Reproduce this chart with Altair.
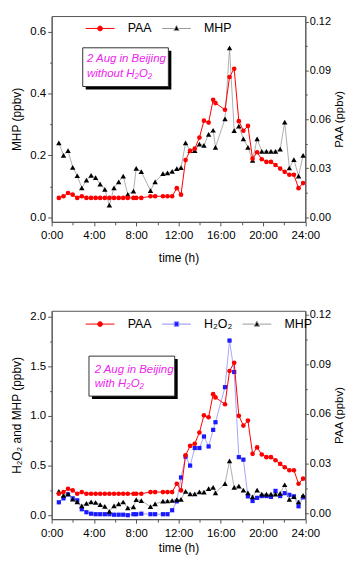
import altair as alt
import pandas as pd

# ---------------- data ----------------
time_h = [0.68, 1.12, 1.55, 1.99, 2.42, 2.85, 3.29, 3.73, 4.16, 4.59, 5.03, 5.46, 5.90,
          6.34, 6.77, 7.20, 7.74, 8.00, 8.48, 9.35, 9.79, 10.53, 10.96, 11.40, 11.84,
          12.24, 12.67, 13.10, 13.54, 13.98, 14.41, 14.85, 15.28, 15.50, 16.40, 16.83,
          17.27, 17.71, 18.14, 18.57, 19.01, 19.44, 19.88, 20.32, 20.75, 21.18, 21.62,
          22.05, 22.49, 22.92, 23.36, 23.79]

mhp_ppbv = [0.240, 0.200, 0.215, 0.161, 0.134, 0.095, 0.120, 0.135, 0.128, 0.107, 0.090,
            0.039, 0.095, 0.114, 0.133, 0.074, 0.084, 0.158, 0.147, 0.086, 0.114, 0.141,
            0.143, 0.148, 0.157, 0.160, 0.240, 0.215, 0.215, 0.236, 0.232, 0.268, 0.281,
            0.226, 0.318, 0.547, 0.280, 0.294, 0.253, 0.226, 0.184, 0.253, 0.213, 0.213,
            0.213, 0.213, 0.220, 0.307, 0.159, 0.186, 0.133, 0.200]

paa_ppbv = [0.0118, 0.0128, 0.0148, 0.0138, 0.0118, 0.0128, 0.0118, 0.0118, 0.0118, 0.0118,
            0.0118, 0.0118, 0.0118, 0.0118, 0.0118, 0.0118, 0.0118, 0.0118, 0.0118, 0.0128,
            0.0128, 0.0128, 0.0128, 0.0128, 0.0178, 0.0138, 0.0350, 0.0407, 0.0420, 0.0488,
            0.0592, 0.0580, 0.0720, 0.0700, 0.0659, 0.0860, 0.0910, 0.0589, 0.0530, 0.0560,
            0.0359, 0.0398, 0.0355, 0.0339, 0.0339, 0.0320, 0.0298, 0.0278, 0.0260, 0.0260,
            0.0178, 0.0209]

h2o2_ppbv = [0.13, 0.17, 0.21, 0.17, 0.15, 0.06, 0.03, 0.015, 0.01, 0.01, 0.01, 0.01, 0.005,
             0.005, 0.005, 0.0, 0.01, 0.01, 0.015, 0.01, 0.01, 0.01, 0.01, 0.05, 0.14, 0.38,
             0.59, 0.50, 0.677, 0.677, 0.793, 0.693, 0.86, 0.937, 1.29, 1.76, 1.443, 0.585,
             0.56, 0.19, 0.143, 0.175, 0.193, 0.193, 0.185, 0.245, 0.193, 0.222, 0.205, 0.19,
             0.09, 0.18]

x_ticks = [0, 2, 4, 6, 8, 10, 12, 14, 16, 18, 20, 22, 24]
mhp_ticks_top = [0.0, 0.1, 0.2, 0.3, 0.4, 0.5, 0.6]
left_ticks_bottom = [0.0, 0.25, 0.5, 0.75, 1.0, 1.25, 1.5, 1.75, 2.0]
paa_ticks = [0.0, 0.015, 0.03, 0.045, 0.06, 0.075, 0.09, 0.105, 0.12]

legend_top = ["PAA", "MHP"]
legend_bottom = ["PAA", "H₂O₂", "MHP"]
note_top = ["2 Aug in Beijing", "without H₂O₂"]
note_bottom = ["2 Aug in Beijing", "with H₂O₂"]

# ---------------- styling ----------------
FONT = "Liberation Sans"
RED = "#ff0000"
BLUE = "#1a1aff"
BLUE_LINE = "#8f8fff"
GRAY_LINE = "#9a9a9a"
MAGENTA = "#ee22ee"
FRAME = "#555555"

W = 255.6
H_TOP = 207.4
H_BOT = 210

df = pd.DataFrame({"time": time_h, "MHP": mhp_ppbv, "PAA": paa_ppbv, "H2O2": h2o2_ppbv})

# legend symbols: line segment + marker (unit coords, drawn with size 100 -> 5 px/unit)
P_CIRCLE = "M-2.9,0H-0.48M0.48,0H2.9M-0.48,0A0.48,0.48,0,1,1,0.48,0A0.48,0.48,0,1,1,-0.48,0Z"
P_TRI = "M-2.9,0H-0.55M0.55,0H2.9M0,-0.6L0.55,0.42L-0.55,0.42Z"
P_SQ = "M-2.9,0H-0.45M0.45,0H2.9M-0.45,-0.45H0.45V0.45H-0.45Z"


def x_enc(title_pad):
    return alt.X(
        "time:Q",
        scale=alt.Scale(domain=[0, 24], nice=False, zero=False),
        axis=alt.Axis(
            values=x_ticks, title="time (h)", labelFlush=False, labelOverlap=False,
            labelExpr="datum.value % 4 == 0 ? datum.value + ':00' : ''",
            tickSize={"condition": {"test": "datum.value % 4 == 0", "value": 4}, "value": 3},
            labelPadding=4, titlePadding=title_pad,
        ),
    )


def left_y(field, domain, ticks, title, mult):
    return alt.Y(
        f"{field}:Q",
        scale=alt.Scale(domain=domain, nice=False, zero=False),
        axis=alt.Axis(
            orient="left", values=ticks, title=title, labelOverlap=False,
            labelExpr=f"round(datum.value*{mult}) % 2 == 0 ? format(datum.value, '.1f') : ''",
            tickSize={"condition": {"test": f"round(datum.value*{mult}) % 2 == 0", "value": 4},
                      "value": 2},
            labelPadding=2, titlePadding=6,
        ),
    )


def right_y(domain):
    return alt.Y(
        "PAA:Q",
        scale=alt.Scale(domain=domain, nice=False, zero=False),
        axis=alt.Axis(
            orient="right", values=paa_ticks, title="PAA (ppbv)", titleAngle=270,
            titleBaseline="bottom", titleX=39.2, titleFontSize=11.5, labelOverlap=False,
            labelFontSize=11,
            labelExpr="round(datum.value/0.015) % 2 == 0 ? format(datum.value, '.2f') : ''",
            tickSize={"condition": {"test": "round(datum.value/0.015) % 2 == 0", "value": 3},
                      "value": 2},
            labelPadding=1,
        ),
    )


def legend_layer(names, fills, strokes, paths, lx, ly):
    leg = alt.Legend(
        title=None, orient="none", legendX=lx, legendY=ly, direction="horizontal",
        symbolSize=100, symbolStrokeWidth=1, symbolOffset=8.25, labelOffset=21.5,
        columnPadding=8, padding=0, labelFont=FONT, labelFontSize=12.5,
        labelColor="black", symbolOpacity=1,
    )
    data = pd.DataFrame({"series": names})
    return alt.Chart(data).mark_point(filled=True, opacity=1, clip=True).encode(
        x=alt.value(-200), y=alt.value(-200),
        fill=alt.Fill("series:N", scale=alt.Scale(domain=names, range=fills), legend=leg),
        stroke=alt.Stroke("series:N", scale=alt.Scale(domain=names, range=strokes), legend=leg),
        shape=alt.Shape("series:N", scale=alt.Scale(domain=names, range=paths), legend=leg),
    )


def note_layers(lines, bx, by, bw, bh, tx, ty):
    one = pd.DataFrame({"k": [0]})
    shadow = alt.Chart(one).mark_rect(color="black").encode(
        x=alt.value(bx + 3), x2=alt.value(bx + bw + 3), y=alt.value(by + 3), y2=alt.value(by + bh + 3))
    box = alt.Chart(one).mark_rect(fill="white", stroke="#333333", strokeWidth=1).encode(
        x=alt.value(bx), x2=alt.value(bx + bw), y=alt.value(by), y2=alt.value(by + bh))
    txt = alt.Chart(one).mark_text(
        align="left", baseline="alphabetic", font=FONT, fontStyle="italic",
        fontSize=11.5, color=MAGENTA, lineHeight=14.3,
    ).encode(x=alt.value(tx), y=alt.value(ty), text=alt.value(lines))
    return [shadow, box, txt]


def series_layers(y, x, line_color, line_w, shape, fill, size):
    base = alt.Chart(df)
    line = base.mark_line(color=line_color, strokeWidth=line_w).encode(x=x, y=y)
    pts = base.mark_point(shape=shape, filled=True, color=fill, size=size, opacity=1).encode(
        x=x, y=y)
    return [line, pts]


# ---------------- top panel ----------------
x_top = x_enc(11)
dom_top_left = [-0.015, 0.65]
dom_paa_top = [-0.0029, 0.1234]
y_mhp_top = left_y("MHP", dom_top_left, mhp_ticks_top, "MHP (ppbv)", 10)
top_left = alt.layer(
    *series_layers(y_mhp_top, x_top, GRAY_LINE, 0.8, "triangle-up", "black", 30),
    legend_layer(legend_top, [RED, "black"], [RED, GRAY_LINE], [P_CIRCLE, P_TRI], 34.3, 6.15),
    *note_layers(note_top, 31.3, 32, 86.3, 39, 35.6, 46.7),
)
top_right = alt.layer(*series_layers(right_y(dom_paa_top), x_top, RED, 1, "circle", RED, 22))
top = alt.layer(top_left, top_right).resolve_scale(y="independent").properties(
    width=W, height=H_TOP)

# ---------------- bottom panel ----------------
x_bot = x_enc(4)
dom_bot_left = [-0.04, 2.06]
dom_paa_bot = [-0.0036, 0.1224]
t_bot = "H₂O₂ and MHP (ppbv)"
y_h2o2 = left_y("H2O2", dom_bot_left, left_ticks_bottom, t_bot, 4)
y_mhp_bot = left_y("MHP", dom_bot_left, left_ticks_bottom, t_bot, 4)
bot_left = alt.layer(
    *series_layers(y_h2o2, x_bot, BLUE_LINE, 0.8, "square", BLUE, 18),
    *series_layers(y_mhp_bot, x_bot, GRAY_LINE, 0.8, "triangle-up", "black", 30),
    legend_layer(legend_bottom, [RED, BLUE, "black"], [RED, BLUE_LINE, GRAY_LINE],
                 [P_CIRCLE, P_SQ, P_TRI], 34.3, 7.05),
    *note_layers(note_bottom, 37.6, 45.7, 86.4, 40.3, 43.3, 62.3),
)
bot_right = alt.layer(*series_layers(right_y(dom_paa_bot), x_bot, RED, 1, "circle", RED, 22))
bottom = alt.layer(bot_left, bot_right).resolve_scale(y="independent").properties(
    width=W, height=H_BOT)

chart = (
    alt.vconcat(top, bottom, spacing=44)
    .resolve_scale(fill="independent", stroke="independent", shape="independent")
    .resolve_legend(fill="independent", stroke="independent", shape="independent")
    .properties(padding={"left": 2, "right": 0, "top": 5, "bottom": 0})
    .configure_axis(
        labelFont=FONT, titleFont=FONT, labelFontSize=11.5, titleFontSize=12,
        titleFontWeight="normal", labelColor="black", titleColor="black",
        domainColor=FRAME, tickColor=FRAME, grid=False,
    )
    .configure_view(stroke=FRAME, strokeWidth=1)
    .configure_legend(labelFont=FONT)
)

chart.save("out.html", embed_options={"renderer": "svg", "actions": False})
